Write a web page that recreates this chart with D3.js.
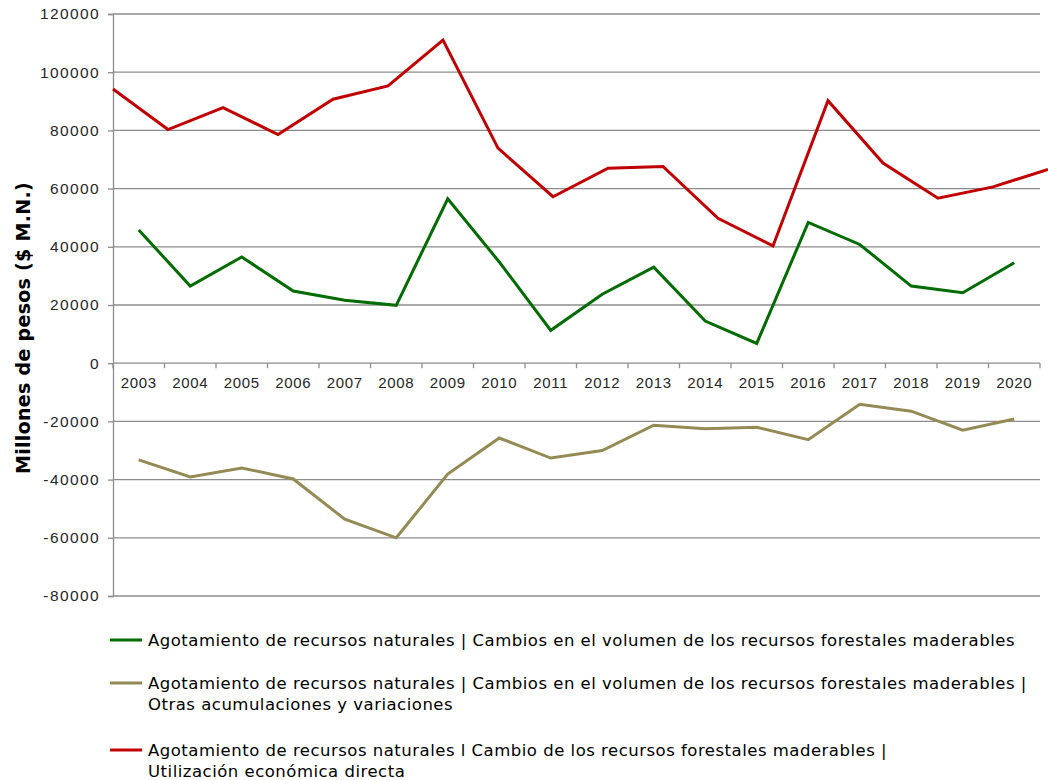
<!DOCTYPE html>
<html>
<head>
<meta charset="utf-8">
<script src="https://cdn.jsdelivr.net/npm/d3@7"></script>
<style>
  body { margin: 0; background: #fff; }
  svg { display: block; font-family: "DejaVu Sans", sans-serif; }
</style>
</head>
<body>
<div id="chart"></div>
<script>
// Data
const years = ["2003", "2004", "2005", "2006", "2007", "2008", "2009", "2010", "2011",
  "2012", "2013", "2014", "2015", "2016", "2017", "2018", "2019", "2020"];
const volumen = [45800, 26500, 36500, 24800, 21600, 19900, 56500, 34800, 11300,
  23700, 33000, 14500, 6800, 48400, 40800, 26500, 24200, 34500];
const otras = [-33200, -39100, -36000, -39800, -53600, -60000, -38100, -25700, -32600,
  -30000, -21300, -22500, -22000, -26300, -14100, -16500, -23000, -19200];
const utilizacion = [94200, 80300, 87800, 78600, 90700, 95300, 111000, 73900, 57200,
  67000, 67600, 49800, 40300, 90200, 68800, 56700, 60600, 66600];
const yTicks = [-80000, -60000, -40000, -20000, 0, 20000, 40000, 60000, 80000, 100000, 120000];
const legendLabels = [
  ["Agotamiento de recursos naturales | Cambios en el volumen de los recursos forestales maderables"],
  ["Agotamiento de recursos naturales | Cambios en el volumen de los recursos forestales maderables |",
   "Otras acumulaciones y variaciones"],
  ["Agotamiento de recursos naturales l Cambio de los recursos forestales maderables |",
   "Utilización económica directa"]
];
const colors = ["#006b00", "#948a54", "#c00000"];

const width = 1048, height = 780;
const plotLeft = 113, plotRight = 1040, plotTop = 14, plotBottom = 596;

const svg = d3.select("#chart").append("svg")
  .attr("width", width)
  .attr("height", height);

const x = d3.scaleBand().domain(years).range([plotLeft, plotRight]);
// the red series sits on its own point scale, running past the plot edge
const xRed = d3.scalePoint().domain(years).range([plotLeft, 1048]);
const y = d3.scaleLinear().domain([-80000, 120000]).range([plotBottom, plotTop]);

// gridlines
svg.append("g")
  .selectAll("line")
  .data(yTicks)
  .join("line")
  .attr("x1", plotLeft)
  .attr("x2", plotRight)
  .attr("y1", (d) => y(d))
  .attr("y2", (d) => y(d))
  .attr("stroke", "#8c8c8c")
  .attr("stroke-width", 1.3);

// y axis
const yAxis = svg.append("g")
  .attr("transform", "translate(" + plotLeft + ",0)")
  .call(d3.axisLeft(y).tickValues(yTicks).tickSize(5).tickPadding(8)
    .tickFormat((d) => (d < 0 ? "-" : "") + Math.abs(d)));
yAxis.select(".domain").attr("stroke", "#8c8c8c").attr("stroke-width", 1.3);
yAxis.selectAll(".tick line").attr("stroke", "#8c8c8c").attr("stroke-width", 1.3);
yAxis.selectAll("text").attr("font-size", 15.5).attr("letter-spacing", 1.4).attr("fill", "#262626");

// category axis on the zero line
const y0 = y(0);
const xAxis = svg.append("g")
  .attr("transform", "translate(0," + y0 + ")")
  .call(d3.axisBottom(x).tickSize(0).tickPadding(14));
xAxis.select(".domain").remove();
xAxis.selectAll("text").attr("font-size", 15).attr("letter-spacing", 0.7).attr("fill", "#262626");

svg.append("g")
  .selectAll("line")
  .data(years.map((d) => x(d)).concat([plotRight]))
  .join("line")
  .attr("x1", (d) => d)
  .attr("x2", (d) => d)
  .attr("y1", y0)
  .attr("y2", y0 + 5)
  .attr("stroke", "#8c8c8c")
  .attr("stroke-width", 1.3);

// lines
const lineBand = d3.line()
  .x((d, i) => x(years[i]) + x.bandwidth() / 2)
  .y((d) => y(d));
const lineRed = d3.line()
  .x((d, i) => xRed(years[i]))
  .y((d) => y(d));

svg.append("path").datum(otras)
  .attr("d", lineBand).attr("fill", "none")
  .attr("stroke", colors[1]).attr("stroke-width", 3);
svg.append("path").datum(volumen)
  .attr("d", lineBand).attr("fill", "none")
  .attr("stroke", colors[0]).attr("stroke-width", 3);
svg.append("path").datum(utilizacion)
  .attr("d", lineRed).attr("fill", "none")
  .attr("stroke", colors[2]).attr("stroke-width", 3);

// y axis title
svg.append("text")
  .attr("transform", "translate(23,328) rotate(-90)")
  .attr("text-anchor", "middle")
  .attr("dy", "0.35em")
  .attr("font-size", 19)
  .attr("letter-spacing", 0.3)
  .attr("font-weight", "bold")
  .attr("fill", "#000")
  .text("Millones de pesos ($ M.N.)");

// legend
const legendY = [640, 683, 750];
const legend = svg.append("g")
  .selectAll("g")
  .data(legendLabels)
  .join("g")
  .attr("transform", (d, i) => "translate(110," + legendY[i] + ")");

legend.append("line")
  .attr("x1", 0).attr("x2", 32)
  .attr("y1", 0).attr("y2", 0)
  .attr("stroke", (d, i) => colors[i])
  .attr("stroke-width", 3);

legend.each(function (lines) {
  const t = d3.select(this).append("text")
    .attr("x", 38)
    .attr("y", 0)
    .attr("font-size", 16.5)
    .attr("letter-spacing", 0.5)
    .attr("fill", "#000");
  lines.forEach((s, j) => {
    t.append("tspan")
      .attr("x", 38)
      .attr("y", j * 21)
      .attr("dy", "0.35em")
      .text(s);
  });
});
</script>
</body>
</html>
